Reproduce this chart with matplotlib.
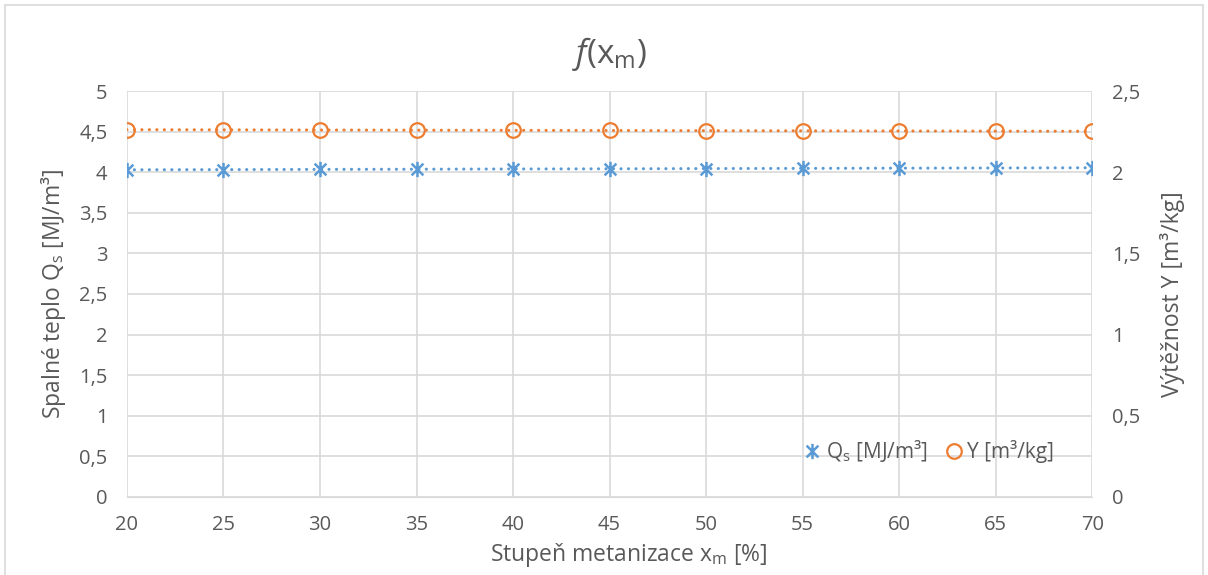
import matplotlib.pyplot as plt
import numpy as np
from matplotlib.path import Path
from matplotlib.ticker import FuncFormatter, MultipleLocator

# Stupeň metanizace a hodnoty obou řad
xm = [20, 25, 30, 35, 40, 45, 50, 55, 60, 65, 70]
qs = [4.030, 4.032, 4.035, 4.037, 4.040, 4.042, 4.045, 4.047, 4.050, 4.052, 4.055]
vyt = [2.262, 2.261, 2.260, 2.259, 2.258, 2.257, 2.256, 2.255, 2.254, 2.253, 2.252]

modra = '#5b9bd5'
oranzova = '#ed7d31'
seda = '#595959'
mrizka = '#d9d9d9'

plt.rcParams['font.family'] = ['Open Sans', 'DejaVu Sans']
plt.rcParams['mathtext.fontset'] = 'custom'
plt.rcParams['mathtext.rm'] = 'Open Sans'
plt.rcParams['mathtext.it'] = 'Open Sans:italic'

# hvězdička jako v Excelu: křížek + svislá čára
hvezda = Path([(-1, -1), (1, 1), (-1, 1), (1, -1), (0, -1.3), (0, 1.3)],
              [Path.MOVETO, Path.LINETO, Path.MOVETO, Path.LINETO, Path.MOVETO, Path.LINETO])

fig = plt.figure(figsize=(12.08, 5.75), dpi=100)
ax = fig.add_axes([0.105, 0.1357, 0.7993, 0.706])
ax2 = ax.twinx()

carky = (0, (0.05, 2.4))
ax.plot(xm, qs, color=modra, linewidth=2.2, linestyle=carky, dash_capstyle='round',
        marker=hvezda, markersize=11, markeredgewidth=1.8, markeredgecolor=modra)
ax2.plot(xm, vyt, color=oranzova, linewidth=2.2, linestyle=carky, dash_capstyle='round',
         marker='o', markersize=10.5, markerfacecolor='none', markeredgewidth=1.6,
         markeredgecolor=oranzova)

carka = FuncFormatter(lambda v, p: ('%g' % v).replace('.', ','))

ax.set_xlim(20, 70)
ax.set_ylim(0, 5)
ax2.set_ylim(0, 2.5)
ax.xaxis.set_major_locator(MultipleLocator(5))
ax.yaxis.set_major_locator(MultipleLocator(0.5))
ax2.yaxis.set_major_locator(MultipleLocator(0.5))
ax.yaxis.set_major_formatter(carka)
ax2.yaxis.set_major_formatter(carka)

for a in (ax, ax2):
    for s in a.spines.values():
        s.set_visible(False)
    a.tick_params(length=0, labelsize=14.5, colors=seda, pad=14)
ax.spines['bottom'].set_visible(True)
ax.spines['bottom'].set_color(mrizka)
ax.grid(True, color=mrizka, linewidth=1.2)
ax.set_axisbelow(True)
ax.tick_params(axis='x', pad=13)

ax.set_title(r'$\mathit{f}$(x$_\mathrm{m}$)', fontsize=24, color=seda, pad=20)
ax.set_xlabel(r'Stupeň metanizace x$_\mathrm{m}$ [%]', fontsize=16.5, color=seda,
              labelpad=4, x=0.52)
ax.set_ylabel(r'Spalné teplo Q$_\mathrm{s}$ [MJ/m³]', fontsize=16.5, color=seda, labelpad=8)
ax2.set_ylabel('Výtěžnost Y [m³/kg]', fontsize=16.5, color=seda, labelpad=14)

h1 = ax.get_lines()[0]
h2 = ax2.get_lines()[0]
leg = ax2.legend([h1, h2], [r'Q$_\mathrm{s}$ [MJ/m³]', 'Y [m³/kg]'], loc='lower right',
                 bbox_to_anchor=(0.98, 0.035), frameon=False, fontsize=15, ncol=2,
                 handlelength=0.7, handletextpad=0.3, columnspacing=0.9, labelcolor=seda)
for h in leg.legend_handles:
    h.set_linestyle('none')

# rámeček kolem grafu
fig.add_artist(plt.Rectangle((5 / 1208, -0.01), 1198 / 1208, 1 - 5 / 575 + 0.01,
                             fill=False, edgecolor=mrizka, linewidth=1.2,
                             transform=fig.transFigure))

fig.savefig('out.png', dpi=100)
